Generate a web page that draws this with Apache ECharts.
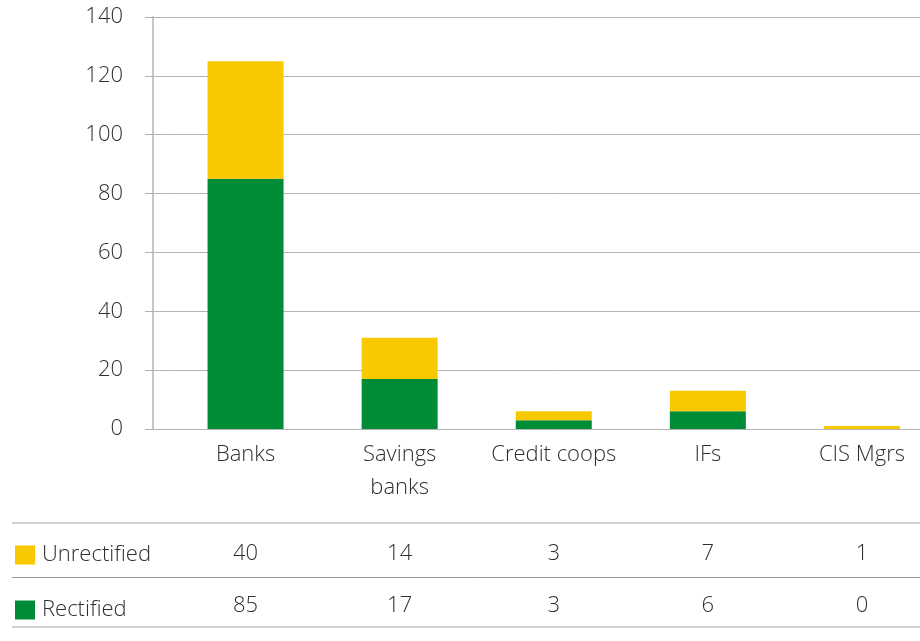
<!DOCTYPE html>
<html>
<head>
<meta charset="utf-8">
<script src="https://cdn.jsdelivr.net/npm/echarts@6/dist/echarts.min.js"></script>
<style>
  html, body { margin: 0; padding: 0; background: #fff; overflow: hidden; }
  /* the plot runs a little past the right edge of the window */
  #chart { width: 939px; height: 641px; }
</style>
</head>
<body>
<div id="chart"></div>
<script>
// Supervisory findings by type of entity
const categories = ['Banks', 'Savings\nbanks', 'Credit coops', 'IFs', 'CIS Mgrs'];
const rectified = [85, 17, 3, 6, 0];
const unrectified = [40, 14, 3, 7, 1];
const yTicks = { min: 0, max: 140, interval: 20 };

const FONT = '"Open Sans", "Noto Sans", sans-serif';
const TEXT = '#2f2f2f';
const GRID_GREY = '#b3b3b3';
const GREEN = '#008c37';
const YELLOW = '#f8c800';

const chart = echarts.init(document.getElementById('chart'), null, { renderer: 'canvas' });

// Extra category axes under the plot that print the data table rows
function tableAxis(values, offset) {
  return {
    type: 'category',
    data: categories,
    position: 'bottom',
    offset: offset,
    axisLine: { show: false },
    axisTick: { show: false },
    splitLine: { show: false },
    axisLabel: {
      interval: 0,
      margin: 0,
      verticalAlign: 'middle',
      color: TEXT,
      fontFamily: FONT,
      fontWeight: 300,
      fontSize: 22,
      formatter: (v, i) => String(values[i])
    }
  };
}

chart.setOption({
  animation: false,
  textStyle: { fontFamily: FONT },
  grid: { left: 168.5, top: 17, right: 0, bottom: 212, containLabel: false },
  legend: {
    data: ['Unrectified', 'Rectified'],
    orient: 'vertical',
    left: 15,
    top: 544,
    padding: 0,
    itemWidth: 20,
    itemHeight: 19,
    itemGap: 33,
    icon: 'rect',
    selectedMode: false,
    textStyle: { color: TEXT, fontFamily: FONT, fontWeight: 300, fontSize: 22, padding: [0, 0, 0, 2] }
  },
  xAxis: [
    {
      type: 'category',
      data: categories,
      axisLine: { show: true, lineStyle: { color: GRID_GREY, width: 1 } },
      axisTick: { show: false },
      axisLabel: {
        interval: 0,
        margin: 9,
        color: TEXT,
        fontFamily: FONT,
        fontWeight: 300,
        fontSize: 22,
        lineHeight: 33
      }
    },
    tableAxis(unrectified, 125),
    tableAxis(rectified, 177)
  ],
  yAxis: [
    {
      type: 'value',
      min: yTicks.min,
      max: yTicks.max,
      interval: yTicks.interval,
      offset: 15.5,
      axisLine: { show: true, lineStyle: { color: '#c6c6c6', width: 2 } },
      axisTick: { show: false },
      splitLine: { show: true, lineStyle: { color: GRID_GREY, width: 1 } },
      axisLabel: {
        margin: 30,
        color: TEXT,
        fontFamily: FONT,
        fontWeight: 300,
        fontSize: 22
      }
    },
    {
      // ticks that carry the gridlines out past the axis line
      type: 'value',
      position: 'left',
      min: yTicks.min,
      max: yTicks.max,
      interval: yTicks.interval,
      axisLine: { show: false },
      axisTick: { show: true, length: 23.5, lineStyle: { color: GRID_GREY, width: 1 } },
      axisLabel: { show: false },
      splitLine: { show: false }
    }
  ],
  series: [
    {
      name: 'Rectified',
      type: 'bar',
      stack: 'total',
      data: rectified,
      barWidth: 76,
      itemStyle: { color: GREEN }
    },
    {
      name: 'Unrectified',
      type: 'bar',
      stack: 'total',
      data: unrectified,
      barWidth: 76,
      itemStyle: { color: YELLOW }
    }
  ],
  graphic: [
    // data table rules
    { type: 'line', shape: { x1: 12, y1: 523, x2: 939, y2: 523 }, style: { stroke: '#cfcfcf', lineWidth: 2 } },
    { type: 'line', shape: { x1: 12, y1: 577.5, x2: 939, y2: 577.5 }, style: { stroke: '#9a9a9a', lineWidth: 1 } },
    { type: 'line', shape: { x1: 12, y1: 627, x2: 939, y2: 627 }, style: { stroke: '#cfcfcf', lineWidth: 2 } }
  ]
});
</script>
</body>
</html>
